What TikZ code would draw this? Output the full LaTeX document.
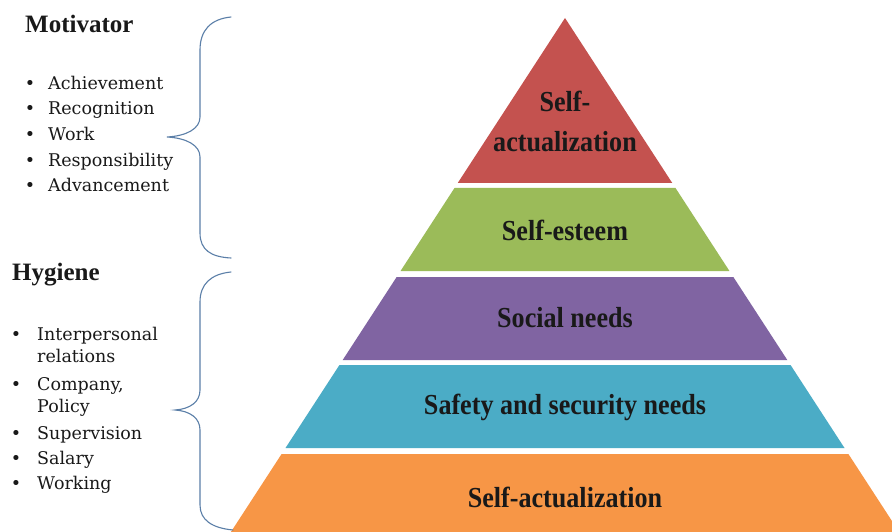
\documentclass[tikz,border=0pt]{standalone}
\usepackage{fontspec}
\setmainfont{Liberation Serif}
\newfontfamily\listfont{DejaVu Serif}
\newfontfamily\pyrfont[FakeStretch=0.9]{Liberation Serif}
\definecolor{pyrred}{HTML}{C4524F}
\definecolor{pyrgreen}{HTML}{9BBB59}
\definecolor{pyrpurple}{HTML}{8064A2}
\definecolor{pyrblue}{HTML}{4BACC6}
\definecolor{pyrorange}{HTML}{F79646}
\definecolor{bracecol}{HTML}{5B7FA8}
\begin{document}
\begin{tikzpicture}[x=1pt,y=-1pt,
  title/.style={font=\fontsize{25}{30}\selectfont\bfseries, anchor=mid west, inner sep=0pt, text=black!90},
  item/.style={font=\listfont\fontsize{17.5}{21}\selectfont, anchor=mid west, inner sep=0pt, text=black!90},
  dot/.style={font=\listfont\fontsize{17.5}{21}\selectfont, anchor=mid, inner sep=0pt, text=black!90},
  lbl/.style={font=\pyrfont\bfseries\fontsize{29}{40}\selectfont, text=black!90, align=center, inner sep=0pt},
  brace/.style={draw=bracecol, line width=1.1pt, line cap=round}
]
\useasboundingbox (0,0) rectangle (892,532);
\clip (0,0) rectangle (892,532);
\fill[white] (0,0) rectangle (892,532);

% pyramid layers
\fill[pyrred] (565,18) -- (672.25,183) -- (457.75,183) -- cycle;
\fill[pyrgreen] (454.5,188) -- (675.5,188) -- (729.45,271) -- (400.55,271) -- cycle;
\fill[pyrpurple] (396.65,277) -- (733.35,277) -- (787.3,360) -- (342.7,360) -- cycle;
\fill[pyrblue] (339.45,365) -- (790.55,365) -- (844.5,448) -- (285.5,448) -- cycle;
\fill[pyrorange] (281.6,454) -- (848.4,454) -- (904.3,540) -- (225.7,540) -- cycle;

\node[lbl] (l1) at (565,121) {Self-\\actualization};
\node[lbl] (l2) at (565,230) {Self-esteem};
\node[lbl] (l3) at (565,318) {Social needs};
\node[lbl] (l4) at (565,407) {Safety and security needs};
\node[lbl] (l5) at (565,497) {Self-actualization};

% Motivator list
\node[title] (mot) at (25,30) {Motivator};
\node[dot] (mb1) at (30,87) {•};  \node[item] (m1) at (48,87) {Achievement};
\node[dot] (mb2) at (30,112) {•}; \node[item] (m2) at (48,112) {Recognition};
\node[dot] (mb3) at (30,138) {•}; \node[item] (m3) at (48,138) {Work};
\node[dot] (mb4) at (30,164) {•}; \node[item] (m4) at (48,164) {Responsibility};
\node[dot] (mb5) at (30,189) {•}; \node[item] (m5) at (48,189) {Advancement};

% Hygiene list
\node[title] (hyg) at (12,278) {Hygiene};
\node[dot] (hb1) at (16,338) {•}; \node[item] (h1) at (37,338) {Interpersonal};
\node[item] (h1b) at (37,360) {relations};
\node[dot] (hb2) at (16,388) {•}; \node[item] (h2) at (37,388) {Company,};
\node[item] (h2b) at (37,410) {Policy};
\node[dot] (hb3) at (16,437) {•}; \node[item] (h3) at (37,437) {Supervision};
\node[dot] (hb4) at (16,462) {•}; \node[item] (h4) at (37,462) {Salary};
\node[dot] (hb5) at (16,487) {•}; \node[item] (h5) at (37,487) {Working};

% braces
\draw[brace] (231,17) .. controls (211,19) and (200,30) .. (200,50)
  -- (200,117) .. controls (200,129) and (186,136) .. (167,137)
  .. controls (186,138) and (200,145) .. (200,157)
  -- (200,233) .. controls (200,250) and (211,257) .. (231,258);
\draw[brace] (231,272) .. controls (211,274) and (200,284) .. (200,302)
  -- (200,390) .. controls (200,402) and (190,409) .. (175,410)
  .. controls (190,411) and (200,418) .. (200,430)
  -- (200,505) .. controls (200,520) and (212,528) .. (233,530);
\end{tikzpicture}
\end{document}
